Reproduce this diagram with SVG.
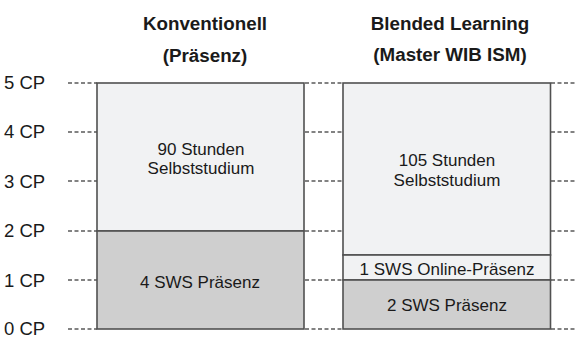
<svg xmlns="http://www.w3.org/2000/svg" width="576" height="338" viewBox="0 0 576 338">
<style>
text{font-family:"Liberation Sans",Arial,sans-serif;fill:#1a1a1a}
.title{font-size:18.8px;font-weight:bold;text-anchor:middle}
.cp{font-size:18.5px}
.lbl{font-size:17px;text-anchor:middle}
.light{fill:#f1f2f3;stroke:#505050;stroke-width:1.6}
.dark{fill:#cfcfcf;stroke:#505050;stroke-width:1.6}
.dash{stroke:#5a5a5a;stroke-width:1.3;stroke-dasharray:4 2.5;fill:none}
</style>
<rect width="576" height="338" fill="#ffffff"/>
<g id="titles">
<text class="title" x="205" y="30">Konventionell</text>
<text class="title" x="205" y="62">(Präsenz)</text>
<text class="title" x="450" y="30">Blended Learning</text>
<text class="title" x="450" y="61">(Master WIB ISM)</text>
</g>
<g id="axis">
<text class="cp" x="4" y="89">5 CP</text>
<text class="cp" x="4" y="138">4 CP</text>
<text class="cp" x="4" y="188">3 CP</text>
<text class="cp" x="4" y="237">2 CP</text>
<text class="cp" x="4" y="287">1 CP</text>
<text class="cp" x="4" y="335">0 CP</text>
</g>
<g id="connectors">
<path class="dash" d="M68 83H97M68 132H97M68 181H97M68 231H97M68 280H97M68 329H97"/>
<path class="dash" d="M305 83H343M305 132H343M305 181H343M305 231H343M305 280H343M305 329H343"/>
<path class="dash" d="M551 83H576M551 132H576M551 181H576M551 231H576M551 280H576M551 329H576"/>
</g>
<g id="konv-selbst">
<rect class="light" x="97" y="83" width="207" height="148"/>
<text class="lbl" x="201" y="155">90 Stunden</text>
<text class="lbl" x="201" y="174">Selbststudium</text>
</g>
<g id="konv-praesenz">
<rect class="dark" x="97" y="231" width="207" height="98"/>
<text class="lbl" x="200" y="288">4 SWS Präsenz</text>
</g>
<g id="bl-selbst">
<rect class="light" x="343" y="83" width="207.5" height="172"/>
<text class="lbl" x="447" y="166">105 Stunden</text>
<text class="lbl" x="447" y="186">Selbststudium</text>
</g>
<g id="bl-online">
<rect class="light" x="343" y="255" width="207.5" height="25"/>
<text class="lbl" x="447" y="275">1 SWS Online-Präsenz</text>
</g>
<g id="bl-praesenz">
<rect class="dark" x="343" y="280" width="207.5" height="49"/>
<text class="lbl" x="447" y="311">2 SWS Präsenz</text>
</g>
</svg>
